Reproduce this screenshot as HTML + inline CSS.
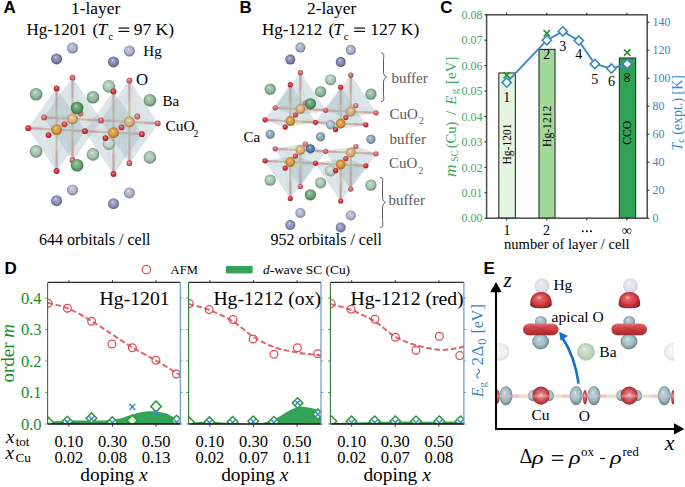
<!DOCTYPE html><html><head><meta charset="utf-8"><title>figure</title><style>html,body{margin:0;padding:0;background:#fff;overflow:hidden}svg{display:block}</style></head><body>
<svg width="685" height="487" viewBox="0 0 685 487">
<defs><radialGradient id="g0" cx="0.5" cy="0.5" r="0.56" fx="0.4" fy="0.33"><stop offset="0" stop-color="#f4d4d6"/><stop offset="0.22" stop-color="#e19093"/><stop offset="0.6" stop-color="#d97175"/><stop offset="1" stop-color="#824446"/></radialGradient><radialGradient id="g1" cx="0.5" cy="0.5" r="0.56" fx="0.4" fy="0.33"><stop offset="0" stop-color="#e6efe8"/><stop offset="0.22" stop-color="#bdd5c4"/><stop offset="0.6" stop-color="#aac9b4"/><stop offset="1" stop-color="#66796c"/></radialGradient><radialGradient id="g2" cx="0.5" cy="0.5" r="0.56" fx="0.4" fy="0.33"><stop offset="0" stop-color="#ebf2ee"/><stop offset="0.22" stop-color="#cbdcd3"/><stop offset="0.6" stop-color="#bcd2c6"/><stop offset="1" stop-color="#717e77"/></radialGradient><radialGradient id="g3" cx="0.5" cy="0.5" r="0.56" fx="0.4" fy="0.33"><stop offset="0" stop-color="#f5e7d5"/><stop offset="0.22" stop-color="#e5c192"/><stop offset="0.6" stop-color="#deaf73"/><stop offset="1" stop-color="#856945"/></radialGradient><radialGradient id="g4" cx="0.5" cy="0.5" r="0.56" fx="0.4" fy="0.33"><stop offset="0" stop-color="#f4d0d1"/><stop offset="0.22" stop-color="#e18487"/><stop offset="0.6" stop-color="#d96165"/><stop offset="1" stop-color="#823a3d"/></radialGradient><radialGradient id="g5" cx="0.5" cy="0.5" r="0.56" fx="0.4" fy="0.33"><stop offset="0" stop-color="#e6e7ef"/><stop offset="0.22" stop-color="#bdc0d6"/><stop offset="0.6" stop-color="#aaaeca"/><stop offset="1" stop-color="#666879"/></radialGradient><radialGradient id="g6" cx="0.5" cy="0.5" r="0.56" fx="0.4" fy="0.33"><stop offset="0" stop-color="#e7e8f0"/><stop offset="0.22" stop-color="#c1c4d8"/><stop offset="0.6" stop-color="#afb3cd"/><stop offset="1" stop-color="#696b7b"/></radialGradient><radialGradient id="g7" cx="0.5" cy="0.5" r="0.56" fx="0.4" fy="0.33"><stop offset="0" stop-color="#f3c6c7"/><stop offset="0.22" stop-color="#e06b6e"/><stop offset="0.6" stop-color="#d74145"/><stop offset="1" stop-color="#812729"/></radialGradient><radialGradient id="g8" cx="0.5" cy="0.5" r="0.56" fx="0.4" fy="0.33"><stop offset="0" stop-color="#ddeae0"/><stop offset="0.22" stop-color="#a8c9af"/><stop offset="0.6" stop-color="#8fba99"/><stop offset="1" stop-color="#56705c"/></radialGradient><radialGradient id="g9" cx="0.5" cy="0.5" r="0.56" fx="0.4" fy="0.33"><stop offset="0" stop-color="#e3ede6"/><stop offset="0.22" stop-color="#b6d1be"/><stop offset="0.6" stop-color="#a2c4ac"/><stop offset="1" stop-color="#617667"/></radialGradient><radialGradient id="g10" cx="0.5" cy="0.5" r="0.56" fx="0.4" fy="0.33"><stop offset="0" stop-color="#f5dec2"/><stop offset="0.22" stop-color="#e5aa61"/><stop offset="0.6" stop-color="#de9234"/><stop offset="1" stop-color="#85581f"/></radialGradient><radialGradient id="g11" cx="0.5" cy="0.5" r="0.56" fx="0.4" fy="0.33"><stop offset="0" stop-color="#f3c0c2"/><stop offset="0.22" stop-color="#df5c5f"/><stop offset="0.6" stop-color="#d62e32"/><stop offset="1" stop-color="#801c1e"/></radialGradient><radialGradient id="g12" cx="0.5" cy="0.5" r="0.56" fx="0.4" fy="0.33"><stop offset="0" stop-color="#d9dae8"/><stop offset="0.22" stop-color="#9c9ec3"/><stop offset="0.6" stop-color="#8082b2"/><stop offset="1" stop-color="#4d4e6b"/></radialGradient><radialGradient id="g13" cx="0.5" cy="0.5" r="0.56" fx="0.4" fy="0.33"><stop offset="0" stop-color="#dddeea"/><stop offset="0.22" stop-color="#a6a8c9"/><stop offset="0.6" stop-color="#8d90ba"/><stop offset="1" stop-color="#555670"/></radialGradient><radialGradient id="g14" cx="0.5" cy="0.5" r="0.56" fx="0.4" fy="0.33"><stop offset="0" stop-color="#f3bdbe"/><stop offset="0.22" stop-color="#df5457"/><stop offset="0.6" stop-color="#d62428"/><stop offset="1" stop-color="#801618"/></radialGradient><radialGradient id="g15" cx="0.5" cy="0.5" r="0.56" fx="0.4" fy="0.33"><stop offset="0" stop-color="#cce1cf"/><stop offset="0.22" stop-color="#7bb283"/><stop offset="0.6" stop-color="#569c60"/><stop offset="1" stop-color="#345e3a"/></radialGradient><radialGradient id="g16" cx="0.5" cy="0.5" r="0.56" fx="0.4" fy="0.33"><stop offset="0" stop-color="#d2e4d5"/><stop offset="0.22" stop-color="#8aba92"/><stop offset="0.6" stop-color="#69a673"/><stop offset="1" stop-color="#3f6445"/></radialGradient><radialGradient id="g17" cx="0.5" cy="0.5" r="0.56" fx="0.4" fy="0.33"><stop offset="0" stop-color="#e3ebf0"/><stop offset="0.22" stop-color="#b7cad8"/><stop offset="0.6" stop-color="#a3bbcd"/><stop offset="1" stop-color="#62707b"/></radialGradient><radialGradient id="g18" cx="0.5" cy="0.5" r="0.56" fx="0.4" fy="0.33"><stop offset="0" stop-color="#dbe4ec"/><stop offset="0.22" stop-color="#a1bace"/><stop offset="0.6" stop-color="#86a6c0"/><stop offset="1" stop-color="#506473"/></radialGradient><radialGradient id="g19" cx="0.5" cy="0.5" r="0.56" fx="0.4" fy="0.33"><stop offset="0" stop-color="#c9d8e4"/><stop offset="0.22" stop-color="#739ab9"/><stop offset="0.6" stop-color="#4b7da5"/><stop offset="1" stop-color="#2d4b63"/></radialGradient><radialGradient id="g20" cx="0.5" cy="0.5" r="0.56" fx="0.4" fy="0.33"><stop offset="0" stop-color="#fafbfa"/><stop offset="0.22" stop-color="#f2f6f2"/><stop offset="0.6" stop-color="#eef3ee"/><stop offset="1" stop-color="#d1d6d1"/></radialGradient><radialGradient id="g21" cx="0.5" cy="0.5" r="0.56" fx="0.4" fy="0.33"><stop offset="0" stop-color="#ecf3ec"/><stop offset="0.22" stop-color="#cedfce"/><stop offset="0.6" stop-color="#c0d6c0"/><stop offset="1" stop-color="#a9bca9"/></radialGradient><radialGradient id="g22" cx="0.5" cy="0.5" r="0.56" fx="0.4" fy="0.33"><stop offset="0" stop-color="#f6f6fa"/><stop offset="0.22" stop-color="#e8e8f2"/><stop offset="0.6" stop-color="#e2e2ee"/><stop offset="1" stop-color="#c7c7d1"/></radialGradient><radialGradient id="g23" cx="0.5" cy="0.5" r="0.56" fx="0.4" fy="0.33"><stop offset="0" stop-color="#f3c4c6"/><stop offset="0.22" stop-color="#df676c"/><stop offset="0.6" stop-color="#d63c42"/><stop offset="1" stop-color="#802428"/></radialGradient><radialGradient id="g24" cx="0.5" cy="0.5" r="0.56" fx="0.4" fy="0.33"><stop offset="0" stop-color="#e2ebee"/><stop offset="0.22" stop-color="#b5cbd3"/><stop offset="0.6" stop-color="#a0bcc6"/><stop offset="1" stop-color="#607177"/></radialGradient></defs>
<rect width="685" height="487" fill="#fff"/>
<text x="3.6" y="13.1" font-family="'Liberation Sans', sans-serif" font-size="17" fill="#000" text-anchor="start" font-weight="bold">A</text>
<text x="71.0" y="13.6" font-family="'Liberation Serif', serif" font-size="17.4" fill="#000" text-anchor="start" >1-layer</text>
<text x="26.4" y="34.7" font-family="'Liberation Serif', serif" font-size="17" fill="#000" text-anchor="start" >Hg-1201</text>
<text x="92.4" y="34.7" font-family="'Liberation Serif', serif" font-size="17.5" fill="#000" text-anchor="start" >(</text>
<text x="97.6" y="34.7" font-family="'Liberation Serif', serif" font-size="17.5" fill="#000" text-anchor="start" font-style="italic">T</text>
<text x="108.3" y="40.0" font-family="'Liberation Serif', serif" font-size="11" fill="#000" text-anchor="start" >c</text>
<rect x="118.5" y="27.5" width="10.9" height="1.15"/><rect x="118.5" y="30.8" width="10.9" height="1.15"/>
<text x="133.7" y="34.7" font-family="'Liberation Serif', serif" font-size="17.5" fill="#000" text-anchor="start" >97 K)</text>
<g stroke-width="2.2" stroke-opacity="0.9"><line x1="56.6" y1="129.7" x2="56.6" y2="109.0" stroke="#e2bb8e"/><line x1="56.6" y1="109.0" x2="56.6" y2="88.4" stroke="#e09494"/><line x1="56.6" y1="129.7" x2="56.6" y2="150.3" stroke="#e2bb8e"/><line x1="56.6" y1="150.3" x2="56.6" y2="171.0" stroke="#e09494"/><line x1="56.6" y1="129.7" x2="42.4" y2="128.9" stroke="#e2bb8e"/><line x1="42.4" y1="128.9" x2="28.2" y2="128.2" stroke="#e09494"/><line x1="56.6" y1="129.7" x2="70.8" y2="130.4" stroke="#e2bb8e"/><line x1="70.8" y1="130.4" x2="85.0" y2="131.2" stroke="#e09494"/><line x1="113.5" y1="132.7" x2="113.5" y2="112.0" stroke="#e2bb8e"/><line x1="113.5" y1="112.0" x2="113.5" y2="91.4" stroke="#e09494"/><line x1="113.5" y1="132.7" x2="113.5" y2="153.3" stroke="#e2bb8e"/><line x1="113.5" y1="153.3" x2="113.5" y2="174.0" stroke="#e09494"/><line x1="113.5" y1="132.7" x2="99.3" y2="131.9" stroke="#e2bb8e"/><line x1="99.3" y1="131.9" x2="85.0" y2="131.2" stroke="#e09494"/><line x1="113.5" y1="132.7" x2="127.7" y2="133.4" stroke="#e2bb8e"/><line x1="127.7" y1="133.4" x2="141.9" y2="134.2" stroke="#e09494"/><line x1="72.5" y1="118.9" x2="72.5" y2="98.2" stroke="#e2bb8e"/><line x1="72.5" y1="98.2" x2="72.5" y2="77.6" stroke="#e09494"/><line x1="72.5" y1="118.9" x2="72.5" y2="139.5" stroke="#e2bb8e"/><line x1="72.5" y1="139.5" x2="72.5" y2="160.2" stroke="#e09494"/><line x1="72.5" y1="118.9" x2="58.3" y2="118.1" stroke="#e2bb8e"/><line x1="58.3" y1="118.1" x2="44.1" y2="117.4" stroke="#e09494"/><line x1="72.5" y1="118.9" x2="86.7" y2="119.6" stroke="#e2bb8e"/><line x1="86.7" y1="119.6" x2="101.0" y2="120.4" stroke="#e09494"/><line x1="129.4" y1="121.9" x2="129.4" y2="101.2" stroke="#e2bb8e"/><line x1="129.4" y1="101.2" x2="129.4" y2="80.6" stroke="#e09494"/><line x1="129.4" y1="121.9" x2="129.4" y2="142.5" stroke="#e2bb8e"/><line x1="129.4" y1="142.5" x2="129.4" y2="163.2" stroke="#e09494"/><line x1="129.4" y1="121.9" x2="115.2" y2="121.1" stroke="#e2bb8e"/><line x1="115.2" y1="121.1" x2="101.0" y2="120.4" stroke="#e09494"/><line x1="129.4" y1="121.9" x2="143.6" y2="122.6" stroke="#e2bb8e"/><line x1="143.6" y1="122.6" x2="157.8" y2="123.4" stroke="#e09494"/></g>
<g fill="#9cb2ba" fill-opacity="0.19" stroke="#8aa0a8" stroke-opacity="0.12" stroke-width="0.6"><polygon points="56.6,88.4 28.2,128.2 48.6,135.1"/><polygon points="56.6,88.4 48.6,135.1 85.0,131.2"/><polygon points="56.6,88.4 85.0,131.2 64.5,124.3"/><polygon points="56.6,88.4 64.5,124.3 28.2,128.2"/><polygon points="56.6,171.0 28.2,128.2 48.6,135.1"/><polygon points="56.6,171.0 48.6,135.1 85.0,131.2"/><polygon points="56.6,171.0 85.0,131.2 64.5,124.3"/><polygon points="56.6,171.0 64.5,124.3 28.2,128.2"/><polygon points="113.5,91.4 85.0,131.2 105.5,138.1"/><polygon points="113.5,91.4 105.5,138.1 141.9,134.2"/><polygon points="113.5,91.4 141.9,134.2 121.5,127.3"/><polygon points="113.5,91.4 121.5,127.3 85.0,131.2"/><polygon points="113.5,174.0 85.0,131.2 105.5,138.1"/><polygon points="113.5,174.0 105.5,138.1 141.9,134.2"/><polygon points="113.5,174.0 141.9,134.2 121.5,127.3"/><polygon points="113.5,174.0 121.5,127.3 85.0,131.2"/><polygon points="72.5,77.6 44.1,117.4 64.5,124.3"/><polygon points="72.5,77.6 64.5,124.3 101.0,120.4"/><polygon points="72.5,77.6 101.0,120.4 80.5,113.5"/><polygon points="72.5,77.6 80.5,113.5 44.1,117.4"/><polygon points="72.5,160.2 44.1,117.4 64.5,124.3"/><polygon points="72.5,160.2 64.5,124.3 101.0,120.4"/><polygon points="72.5,160.2 101.0,120.4 80.5,113.5"/><polygon points="72.5,160.2 80.5,113.5 44.1,117.4"/><polygon points="129.4,80.6 101.0,120.4 121.5,127.3"/><polygon points="129.4,80.6 121.5,127.3 157.8,123.4"/><polygon points="129.4,80.6 157.8,123.4 137.3,116.5"/><polygon points="129.4,80.6 137.3,116.5 101.0,120.4"/><polygon points="129.4,163.2 101.0,120.4 121.5,127.3"/><polygon points="129.4,163.2 121.5,127.3 157.8,123.4"/><polygon points="129.4,163.2 157.8,123.4 137.3,116.5"/><polygon points="129.4,163.2 137.3,116.5 101.0,120.4"/></g>
<circle cx="80.5" cy="113.5" r="2.9" fill="url(#g0)"/>
<circle cx="137.3" cy="116.5" r="2.9" fill="url(#g0)"/>
<circle cx="108.9" cy="86.4" r="6.3" fill="url(#g1)"/>
<circle cx="108.9" cy="143.6" r="6.3" fill="url(#g2)"/>
<circle cx="72.5" cy="118.9" r="5.4" fill="url(#g3)"/>
<circle cx="129.4" cy="121.9" r="5.4" fill="url(#g3)"/>
<circle cx="44.1" cy="117.4" r="2.9" fill="url(#g4)"/>
<circle cx="101.0" cy="120.4" r="2.9" fill="url(#g4)"/>
<circle cx="157.8" cy="123.4" r="2.9" fill="url(#g4)"/>
<circle cx="72.5" cy="77.6" r="2.9" fill="url(#g4)"/>
<circle cx="72.5" cy="160.2" r="2.9" fill="url(#g4)"/>
<circle cx="129.4" cy="80.6" r="2.9" fill="url(#g4)"/>
<circle cx="129.4" cy="163.2" r="2.9" fill="url(#g4)"/>
<circle cx="72.5" cy="48.1" r="5.5" fill="url(#g5)"/>
<circle cx="129.4" cy="51.1" r="5.5" fill="url(#g5)"/>
<circle cx="72.5" cy="189.9" r="5.5" fill="url(#g6)"/>
<circle cx="129.4" cy="192.9" r="5.5" fill="url(#g6)"/>
<circle cx="64.5" cy="124.3" r="2.9" fill="url(#g7)"/>
<circle cx="121.5" cy="127.3" r="2.9" fill="url(#g7)"/>
<circle cx="36.1" cy="94.2" r="6.3" fill="url(#g8)"/>
<circle cx="93.0" cy="97.2" r="6.3" fill="url(#g8)"/>
<circle cx="149.9" cy="100.2" r="6.3" fill="url(#g8)"/>
<circle cx="36.1" cy="151.4" r="6.3" fill="url(#g9)"/>
<circle cx="93.0" cy="154.4" r="6.3" fill="url(#g9)"/>
<circle cx="149.9" cy="157.4" r="6.3" fill="url(#g9)"/>
<circle cx="56.6" cy="129.7" r="5.4" fill="url(#g10)"/>
<circle cx="113.5" cy="132.7" r="5.4" fill="url(#g10)"/>
<circle cx="28.2" cy="128.2" r="2.9" fill="url(#g11)"/>
<circle cx="85.0" cy="131.2" r="2.9" fill="url(#g11)"/>
<circle cx="141.9" cy="134.2" r="2.9" fill="url(#g11)"/>
<circle cx="56.6" cy="88.4" r="2.9" fill="url(#g11)"/>
<circle cx="56.6" cy="171.0" r="2.9" fill="url(#g11)"/>
<circle cx="113.5" cy="91.4" r="2.9" fill="url(#g11)"/>
<circle cx="113.5" cy="174.0" r="2.9" fill="url(#g11)"/>
<circle cx="56.6" cy="58.9" r="5.5" fill="url(#g12)"/>
<circle cx="113.5" cy="61.9" r="5.5" fill="url(#g12)"/>
<circle cx="56.6" cy="200.7" r="5.5" fill="url(#g13)"/>
<circle cx="113.5" cy="203.7" r="5.5" fill="url(#g13)"/>
<circle cx="48.6" cy="135.1" r="2.9" fill="url(#g14)"/>
<circle cx="105.5" cy="138.1" r="2.9" fill="url(#g14)"/>
<circle cx="77.1" cy="108.0" r="6.3" fill="url(#g15)"/>
<circle cx="77.1" cy="165.2" r="6.3" fill="url(#g16)"/>
<text x="143.3" y="56.4" font-family="'Liberation Serif', serif" font-size="15" fill="#000" text-anchor="start" >Hg</text>
<text x="136.0" y="85.2" font-family="'Liberation Serif', serif" font-size="16.8" fill="#000" text-anchor="start" >O</text>
<text x="162.4" y="105.7" font-family="'Liberation Serif', serif" font-size="15" fill="#000" text-anchor="start" >Ba</text>
<text x="165.5" y="131.4" font-family="'Liberation Serif', serif" font-size="15.5" fill="#000" text-anchor="start" >CuO</text>
<text x="193.6" y="136.6" font-family="'Liberation Serif', serif" font-size="10" fill="#000" text-anchor="start" >2</text>
<text x="39.0" y="245.4" font-family="'Liberation Serif', serif" font-size="16" fill="#000" text-anchor="start" >644 orbitals / cell</text>
<text x="239.6" y="13.1" font-family="'Liberation Sans', sans-serif" font-size="17" fill="#000" text-anchor="start" font-weight="bold">B</text>
<text x="307.0" y="13.6" font-family="'Liberation Serif', serif" font-size="17.4" fill="#000" text-anchor="start" >2-layer</text>
<text x="261.9" y="34.7" font-family="'Liberation Serif', serif" font-size="17" fill="#000" text-anchor="start" >Hg-1212</text>
<text x="328.4" y="34.7" font-family="'Liberation Serif', serif" font-size="17.5" fill="#000" text-anchor="start" >(</text>
<text x="333.2" y="34.7" font-family="'Liberation Serif', serif" font-size="17.5" fill="#000" text-anchor="start" font-style="italic">T</text>
<text x="343.8" y="40.0" font-family="'Liberation Serif', serif" font-size="11" fill="#000" text-anchor="start" >c</text>
<rect x="354.2" y="27.5" width="10.9" height="1.15"/><rect x="354.2" y="30.8" width="10.9" height="1.15"/>
<text x="370.2" y="34.7" font-family="'Liberation Serif', serif" font-size="17.5" fill="#000" text-anchor="start" >127 K)</text>
<g stroke-width="2.2" stroke-opacity="0.9"><line x1="290.3" y1="121.1" x2="290.3" y2="102.9" stroke="#e2bb8e"/><line x1="290.3" y1="102.9" x2="290.3" y2="84.7" stroke="#e09494"/><line x1="290.3" y1="121.1" x2="277.7" y2="120.5" stroke="#e2bb8e"/><line x1="277.7" y1="120.5" x2="265.1" y2="119.8" stroke="#e09494"/><line x1="290.3" y1="121.1" x2="302.9" y2="121.7" stroke="#e2bb8e"/><line x1="302.9" y1="121.7" x2="315.5" y2="122.3" stroke="#e09494"/><line x1="340.7" y1="123.6" x2="340.7" y2="105.4" stroke="#e2bb8e"/><line x1="340.7" y1="105.4" x2="340.7" y2="87.2" stroke="#e09494"/><line x1="340.7" y1="123.6" x2="328.1" y2="123.0" stroke="#e2bb8e"/><line x1="328.1" y1="123.0" x2="315.5" y2="122.3" stroke="#e09494"/><line x1="340.7" y1="123.6" x2="353.3" y2="124.2" stroke="#e2bb8e"/><line x1="353.3" y1="124.2" x2="365.9" y2="124.8" stroke="#e09494"/><line x1="300.4" y1="109.1" x2="300.4" y2="90.9" stroke="#e2bb8e"/><line x1="300.4" y1="90.9" x2="300.4" y2="72.7" stroke="#e09494"/><line x1="300.4" y1="109.1" x2="287.8" y2="108.5" stroke="#e2bb8e"/><line x1="287.8" y1="108.5" x2="275.2" y2="107.8" stroke="#e09494"/><line x1="300.4" y1="109.1" x2="313.0" y2="109.7" stroke="#e2bb8e"/><line x1="313.0" y1="109.7" x2="325.6" y2="110.3" stroke="#e09494"/><line x1="350.8" y1="111.6" x2="350.8" y2="93.4" stroke="#e2bb8e"/><line x1="350.8" y1="93.4" x2="350.8" y2="75.2" stroke="#e09494"/><line x1="350.8" y1="111.6" x2="338.2" y2="111.0" stroke="#e2bb8e"/><line x1="338.2" y1="111.0" x2="325.6" y2="110.3" stroke="#e09494"/><line x1="350.8" y1="111.6" x2="363.4" y2="112.2" stroke="#e2bb8e"/><line x1="363.4" y1="112.2" x2="376.0" y2="112.8" stroke="#e09494"/><line x1="290.3" y1="162.1" x2="290.3" y2="180.3" stroke="#e2bb8e"/><line x1="290.3" y1="180.3" x2="290.3" y2="198.5" stroke="#e09494"/><line x1="290.3" y1="162.1" x2="277.7" y2="161.5" stroke="#e2bb8e"/><line x1="277.7" y1="161.5" x2="265.1" y2="160.8" stroke="#e09494"/><line x1="290.3" y1="162.1" x2="302.9" y2="162.7" stroke="#e2bb8e"/><line x1="302.9" y1="162.7" x2="315.5" y2="163.3" stroke="#e09494"/><line x1="340.7" y1="164.6" x2="340.7" y2="182.8" stroke="#e2bb8e"/><line x1="340.7" y1="182.8" x2="340.7" y2="201.0" stroke="#e09494"/><line x1="340.7" y1="164.6" x2="328.1" y2="164.0" stroke="#e2bb8e"/><line x1="328.1" y1="164.0" x2="315.5" y2="163.3" stroke="#e09494"/><line x1="340.7" y1="164.6" x2="353.3" y2="165.2" stroke="#e2bb8e"/><line x1="353.3" y1="165.2" x2="365.9" y2="165.8" stroke="#e09494"/><line x1="300.4" y1="150.1" x2="300.4" y2="168.3" stroke="#e2bb8e"/><line x1="300.4" y1="168.3" x2="300.4" y2="186.5" stroke="#e09494"/><line x1="300.4" y1="150.1" x2="287.8" y2="149.5" stroke="#e2bb8e"/><line x1="287.8" y1="149.5" x2="275.2" y2="148.8" stroke="#e09494"/><line x1="300.4" y1="150.1" x2="313.0" y2="150.7" stroke="#e2bb8e"/><line x1="313.0" y1="150.7" x2="325.6" y2="151.3" stroke="#e09494"/><line x1="350.8" y1="152.6" x2="350.8" y2="170.8" stroke="#e2bb8e"/><line x1="350.8" y1="170.8" x2="350.8" y2="189.0" stroke="#e09494"/><line x1="350.8" y1="152.6" x2="338.2" y2="152.0" stroke="#e2bb8e"/><line x1="338.2" y1="152.0" x2="325.6" y2="151.3" stroke="#e09494"/><line x1="350.8" y1="152.6" x2="363.4" y2="153.2" stroke="#e2bb8e"/><line x1="363.4" y1="153.2" x2="376.0" y2="153.8" stroke="#e09494"/></g>
<g fill="#9cb2ba" fill-opacity="0.19" stroke="#8aa0a8" stroke-opacity="0.12" stroke-width="0.6"><polygon points="290.3,84.7 265.1,119.8 285.2,127.1"/><polygon points="290.3,84.7 285.2,127.1 315.5,122.3"/><polygon points="290.3,84.7 315.5,122.3 295.4,115.1"/><polygon points="290.3,84.7 295.4,115.1 265.1,119.8"/><polygon points="265.1,119.8 285.2,127.1 315.5,122.3 295.4,115.1"/><polygon points="340.7,87.2 315.5,122.3 335.6,129.6"/><polygon points="340.7,87.2 335.6,129.6 365.9,124.8"/><polygon points="340.7,87.2 365.9,124.8 345.8,117.6"/><polygon points="340.7,87.2 345.8,117.6 315.5,122.3"/><polygon points="315.5,122.3 335.6,129.6 365.9,124.8 345.8,117.6"/><polygon points="300.4,72.7 275.2,107.8 295.4,115.1"/><polygon points="300.4,72.7 295.4,115.1 325.6,110.3"/><polygon points="300.4,72.7 325.6,110.3 305.4,103.1"/><polygon points="300.4,72.7 305.4,103.1 275.2,107.8"/><polygon points="275.2,107.8 295.4,115.1 325.6,110.3 305.4,103.1"/><polygon points="350.8,75.2 325.6,110.3 345.8,117.6"/><polygon points="350.8,75.2 345.8,117.6 376.0,112.8"/><polygon points="350.8,75.2 376.0,112.8 355.8,105.6"/><polygon points="350.8,75.2 355.8,105.6 325.6,110.3"/><polygon points="325.6,110.3 345.8,117.6 376.0,112.8 355.8,105.6"/><polygon points="290.3,198.5 265.1,160.8 285.2,168.1"/><polygon points="290.3,198.5 285.2,168.1 315.5,163.3"/><polygon points="290.3,198.5 315.5,163.3 295.4,156.1"/><polygon points="290.3,198.5 295.4,156.1 265.1,160.8"/><polygon points="265.1,160.8 285.2,168.1 315.5,163.3 295.4,156.1"/><polygon points="340.7,201.0 315.5,163.3 335.6,170.6"/><polygon points="340.7,201.0 335.6,170.6 365.9,165.8"/><polygon points="340.7,201.0 365.9,165.8 345.8,158.6"/><polygon points="340.7,201.0 345.8,158.6 315.5,163.3"/><polygon points="315.5,163.3 335.6,170.6 365.9,165.8 345.8,158.6"/><polygon points="300.4,186.5 275.2,148.8 295.4,156.1"/><polygon points="300.4,186.5 295.4,156.1 325.6,151.3"/><polygon points="300.4,186.5 325.6,151.3 305.4,144.1"/><polygon points="300.4,186.5 305.4,144.1 275.2,148.8"/><polygon points="275.2,148.8 295.4,156.1 325.6,151.3 305.4,144.1"/><polygon points="350.8,189.0 325.6,151.3 345.8,158.6"/><polygon points="350.8,189.0 345.8,158.6 376.0,153.8"/><polygon points="350.8,189.0 376.0,153.8 355.8,146.6"/><polygon points="350.8,189.0 355.8,146.6 325.6,151.3"/><polygon points="325.6,151.3 345.8,158.6 376.0,153.8 355.8,146.6"/></g>
<circle cx="305.4" cy="103.1" r="2.6" fill="url(#g0)"/>
<circle cx="355.8" cy="105.6" r="2.6" fill="url(#g0)"/>
<circle cx="305.4" cy="144.1" r="2.6" fill="url(#g0)"/>
<circle cx="355.8" cy="146.6" r="2.6" fill="url(#g0)"/>
<circle cx="330.6" cy="79.8" r="5.6" fill="url(#g1)"/>
<circle cx="330.6" cy="170.8" r="5.6" fill="url(#g2)"/>
<circle cx="330.6" cy="124.8" r="4.6" fill="url(#g17)"/>
<circle cx="300.4" cy="109.1" r="4.8" fill="url(#g3)"/>
<circle cx="350.8" cy="111.6" r="4.8" fill="url(#g3)"/>
<circle cx="275.2" cy="107.8" r="2.6" fill="url(#g4)"/>
<circle cx="325.6" cy="110.3" r="2.6" fill="url(#g4)"/>
<circle cx="376.0" cy="112.8" r="2.6" fill="url(#g4)"/>
<circle cx="300.4" cy="72.7" r="2.6" fill="url(#g4)"/>
<circle cx="350.8" cy="75.2" r="2.6" fill="url(#g4)"/>
<circle cx="300.4" cy="150.1" r="4.8" fill="url(#g3)"/>
<circle cx="350.8" cy="152.6" r="4.8" fill="url(#g3)"/>
<circle cx="275.2" cy="148.8" r="2.6" fill="url(#g4)"/>
<circle cx="325.6" cy="151.3" r="2.6" fill="url(#g4)"/>
<circle cx="376.0" cy="153.8" r="2.6" fill="url(#g4)"/>
<circle cx="300.4" cy="186.5" r="2.6" fill="url(#g4)"/>
<circle cx="350.8" cy="189.0" r="2.6" fill="url(#g4)"/>
<circle cx="300.4" cy="47.6" r="5.0" fill="url(#g5)"/>
<circle cx="350.8" cy="50.1" r="5.0" fill="url(#g5)"/>
<circle cx="300.4" cy="213.0" r="5.0" fill="url(#g6)"/>
<circle cx="350.8" cy="215.5" r="5.0" fill="url(#g6)"/>
<circle cx="295.4" cy="115.1" r="2.6" fill="url(#g7)"/>
<circle cx="345.8" cy="117.6" r="2.6" fill="url(#g7)"/>
<circle cx="295.4" cy="156.1" r="2.6" fill="url(#g7)"/>
<circle cx="345.8" cy="158.6" r="2.6" fill="url(#g7)"/>
<circle cx="270.2" cy="89.2" r="5.6" fill="url(#g8)"/>
<circle cx="320.6" cy="91.8" r="5.6" fill="url(#g8)"/>
<circle cx="370.9" cy="94.2" r="5.6" fill="url(#g8)"/>
<circle cx="270.2" cy="180.2" r="5.6" fill="url(#g9)"/>
<circle cx="320.6" cy="182.8" r="5.6" fill="url(#g9)"/>
<circle cx="370.9" cy="185.2" r="5.6" fill="url(#g9)"/>
<circle cx="270.2" cy="134.3" r="4.6" fill="url(#g18)"/>
<circle cx="320.6" cy="136.8" r="4.6" fill="url(#g18)"/>
<circle cx="370.9" cy="139.3" r="4.6" fill="url(#g18)"/>
<circle cx="290.3" cy="121.1" r="4.8" fill="url(#g10)"/>
<circle cx="340.7" cy="123.6" r="4.8" fill="url(#g10)"/>
<circle cx="265.1" cy="119.8" r="2.6" fill="url(#g11)"/>
<circle cx="315.5" cy="122.3" r="2.6" fill="url(#g11)"/>
<circle cx="365.9" cy="124.8" r="2.6" fill="url(#g11)"/>
<circle cx="290.3" cy="84.7" r="2.6" fill="url(#g11)"/>
<circle cx="340.7" cy="87.2" r="2.6" fill="url(#g11)"/>
<circle cx="290.3" cy="162.1" r="4.8" fill="url(#g10)"/>
<circle cx="340.7" cy="164.6" r="4.8" fill="url(#g10)"/>
<circle cx="265.1" cy="160.8" r="2.6" fill="url(#g11)"/>
<circle cx="315.5" cy="163.3" r="2.6" fill="url(#g11)"/>
<circle cx="365.9" cy="165.8" r="2.6" fill="url(#g11)"/>
<circle cx="290.3" cy="198.5" r="2.6" fill="url(#g11)"/>
<circle cx="340.7" cy="201.0" r="2.6" fill="url(#g11)"/>
<circle cx="290.3" cy="59.6" r="5.0" fill="url(#g12)"/>
<circle cx="340.7" cy="62.1" r="5.0" fill="url(#g12)"/>
<circle cx="290.3" cy="225.0" r="5.0" fill="url(#g13)"/>
<circle cx="340.7" cy="227.5" r="5.0" fill="url(#g13)"/>
<circle cx="285.2" cy="127.1" r="2.6" fill="url(#g14)"/>
<circle cx="335.6" cy="129.6" r="2.6" fill="url(#g14)"/>
<circle cx="285.2" cy="168.1" r="2.6" fill="url(#g14)"/>
<circle cx="335.6" cy="170.6" r="2.6" fill="url(#g14)"/>
<circle cx="310.4" cy="103.8" r="5.6" fill="url(#g15)"/>
<circle cx="310.4" cy="194.8" r="5.6" fill="url(#g16)"/>
<circle cx="310.4" cy="148.8" r="4.6" fill="url(#g19)"/>
<text x="391.4" y="82.5" font-family="'Liberation Serif', serif" font-size="15" fill="#5a5a5a" text-anchor="start" >buffer</text>
<text x="389.6" y="118.5" font-family="'Liberation Serif', serif" font-size="15" fill="#5a5a5a" text-anchor="start" >CuO</text>
<text x="419.0" y="124.3" font-family="'Liberation Serif', serif" font-size="9.6" fill="#5a5a5a" text-anchor="start" >2</text>
<text x="389.6" y="143.5" font-family="'Liberation Serif', serif" font-size="15" fill="#5a5a5a" text-anchor="start" >buffer</text>
<text x="389.0" y="167.7" font-family="'Liberation Serif', serif" font-size="15" fill="#5a5a5a" text-anchor="start" >CuO</text>
<text x="418.4" y="173.5" font-family="'Liberation Serif', serif" font-size="9.6" fill="#5a5a5a" text-anchor="start" >2</text>
<text x="388.5" y="205.2" font-family="'Liberation Serif', serif" font-size="15" fill="#5a5a5a" text-anchor="start" >buffer</text>
<text x="243.5" y="142.0" font-family="'Liberation Serif', serif" font-size="15" fill="#000" text-anchor="start" >Ca</text>
<text x="270.4" y="244.9" font-family="'Liberation Serif', serif" font-size="16" fill="#000" text-anchor="start" >952 orbitals / cell</text>
<path d="M381.0,53.0 C385.0,53.0 383.5,56.0 383.5,61.0 L383.5,72.2 C383.5,75.8 386.0,77.2 386.5,77.2 C386.0,77.2 383.5,78.8 383.5,82.2 L383.5,93.5 C383.5,98.5 385.0,101.5 381.0,101.5" fill="none" stroke="#5a5a5a" stroke-width="1"/>
<path d="M380.0,177.5 C384.0,177.5 382.5,180.5 382.5,185.5 L382.5,197.4 C382.5,200.9 385.0,202.4 385.5,202.4 C385.0,202.4 382.5,203.9 382.5,207.4 L382.5,219.4 C382.5,224.4 384.0,227.4 380.0,227.4" fill="none" stroke="#5a5a5a" stroke-width="1"/>
<text x="440.3" y="13.0" font-family="'Liberation Sans', sans-serif" font-size="17" fill="#000" text-anchor="start" font-weight="bold">C</text>
<rect x="498.8" y="73.0" width="16.6" height="145.2" fill="#e5f5e0" stroke="#3c3c3c" stroke-width="1.2"/>
<rect x="539.0" y="49.4" width="16.0" height="168.8" fill="#a1d99b" stroke="#3c3c3c" stroke-width="1.2"/>
<rect x="619.4" y="58.0" width="16.2" height="160.2" fill="#31a354" stroke="#3c3c3c" stroke-width="1.2"/>
<rect x="486.6" y="14.8" width="160.6" height="203.4" fill="none" stroke="#4a4a4a" stroke-width="1.5"/>
<line x1="484.40000000000003" y1="218.2" x2="486.6" y2="218.2" stroke="#222" stroke-width="1"/>
<text x="482.4" y="222.4" font-family="'Liberation Serif', serif" font-size="12" fill="#45a860" text-anchor="end" >0.00</text>
<line x1="484.40000000000003" y1="192.8" x2="486.6" y2="192.8" stroke="#222" stroke-width="1"/>
<text x="482.4" y="197.0" font-family="'Liberation Serif', serif" font-size="12" fill="#45a860" text-anchor="end" >0.01</text>
<line x1="484.40000000000003" y1="167.3" x2="486.6" y2="167.3" stroke="#222" stroke-width="1"/>
<text x="482.4" y="171.5" font-family="'Liberation Serif', serif" font-size="12" fill="#45a860" text-anchor="end" >0.02</text>
<line x1="484.40000000000003" y1="141.9" x2="486.6" y2="141.9" stroke="#222" stroke-width="1"/>
<text x="482.4" y="146.1" font-family="'Liberation Serif', serif" font-size="12" fill="#45a860" text-anchor="end" >0.03</text>
<line x1="484.40000000000003" y1="116.5" x2="486.6" y2="116.5" stroke="#222" stroke-width="1"/>
<text x="482.4" y="120.7" font-family="'Liberation Serif', serif" font-size="12" fill="#45a860" text-anchor="end" >0.04</text>
<line x1="484.40000000000003" y1="91.1" x2="486.6" y2="91.1" stroke="#222" stroke-width="1"/>
<text x="482.4" y="95.3" font-family="'Liberation Serif', serif" font-size="12" fill="#45a860" text-anchor="end" >0.05</text>
<line x1="484.40000000000003" y1="65.7" x2="486.6" y2="65.7" stroke="#222" stroke-width="1"/>
<text x="482.4" y="69.9" font-family="'Liberation Serif', serif" font-size="12" fill="#45a860" text-anchor="end" >0.06</text>
<line x1="484.40000000000003" y1="40.2" x2="486.6" y2="40.2" stroke="#222" stroke-width="1"/>
<text x="482.4" y="44.4" font-family="'Liberation Serif', serif" font-size="12" fill="#45a860" text-anchor="end" >0.07</text>
<line x1="484.40000000000003" y1="14.8" x2="486.6" y2="14.8" stroke="#222" stroke-width="1"/>
<text x="482.4" y="19.0" font-family="'Liberation Serif', serif" font-size="12" fill="#45a860" text-anchor="end" >0.08</text>
<line x1="647.2" y1="218.2" x2="649.4000000000001" y2="218.2" stroke="#222" stroke-width="1"/>
<text x="652.5" y="222.4" font-family="'Liberation Serif', serif" font-size="12" fill="#3a87c6" text-anchor="start" >0</text>
<line x1="647.2" y1="190.2" x2="649.4000000000001" y2="190.2" stroke="#222" stroke-width="1"/>
<text x="652.5" y="194.4" font-family="'Liberation Serif', serif" font-size="12" fill="#3a87c6" text-anchor="start" >20</text>
<line x1="647.2" y1="162.2" x2="649.4000000000001" y2="162.2" stroke="#222" stroke-width="1"/>
<text x="652.5" y="166.4" font-family="'Liberation Serif', serif" font-size="12" fill="#3a87c6" text-anchor="start" >40</text>
<line x1="647.2" y1="134.2" x2="649.4000000000001" y2="134.2" stroke="#222" stroke-width="1"/>
<text x="652.5" y="138.4" font-family="'Liberation Serif', serif" font-size="12" fill="#3a87c6" text-anchor="start" >60</text>
<line x1="647.2" y1="106.2" x2="649.4000000000001" y2="106.2" stroke="#222" stroke-width="1"/>
<text x="652.5" y="110.4" font-family="'Liberation Serif', serif" font-size="12" fill="#3a87c6" text-anchor="start" >80</text>
<line x1="647.2" y1="78.2" x2="649.4000000000001" y2="78.2" stroke="#222" stroke-width="1"/>
<text x="652.5" y="82.4" font-family="'Liberation Serif', serif" font-size="12" fill="#3a87c6" text-anchor="start" >100</text>
<line x1="647.2" y1="50.2" x2="649.4000000000001" y2="50.2" stroke="#222" stroke-width="1"/>
<text x="652.5" y="54.4" font-family="'Liberation Serif', serif" font-size="12" fill="#3a87c6" text-anchor="start" >120</text>
<line x1="647.2" y1="22.2" x2="649.4000000000001" y2="22.2" stroke="#222" stroke-width="1"/>
<text x="652.5" y="26.4" font-family="'Liberation Serif', serif" font-size="12" fill="#3a87c6" text-anchor="start" >140</text>
<line x1="506.7" y1="12.600000000000001" x2="506.7" y2="14.8" stroke="#222" stroke-width="1"/>
<line x1="506.7" y1="218.2" x2="506.7" y2="220.39999999999998" stroke="#222" stroke-width="1"/>
<line x1="546.8" y1="12.600000000000001" x2="546.8" y2="14.8" stroke="#222" stroke-width="1"/>
<line x1="546.8" y1="218.2" x2="546.8" y2="220.39999999999998" stroke="#222" stroke-width="1"/>
<line x1="586.8" y1="12.600000000000001" x2="586.8" y2="14.8" stroke="#222" stroke-width="1"/>
<line x1="586.8" y1="218.2" x2="586.8" y2="220.39999999999998" stroke="#222" stroke-width="1"/>
<line x1="626.9" y1="12.600000000000001" x2="626.9" y2="14.8" stroke="#222" stroke-width="1"/>
<line x1="626.9" y1="218.2" x2="626.9" y2="220.39999999999998" stroke="#222" stroke-width="1"/>
<text x="507.0" y="235.4" font-family="'Liberation Serif', serif" font-size="14" fill="#000" text-anchor="middle" >1</text>
<text x="546.6" y="235.4" font-family="'Liberation Serif', serif" font-size="14" fill="#000" text-anchor="middle" >2</text>
<circle cx="582.8" cy="231.3" r="0.95"/><circle cx="586.9" cy="231.3" r="0.95"/><circle cx="591.0" cy="231.3" r="0.95"/>
<text x="626.7" y="235.4" font-family="'Liberation Serif', serif" font-size="14" fill="#000" text-anchor="middle" >∞</text>
<text x="504.0" y="249.4" font-family="'Liberation Serif', serif" font-size="14.6" fill="#000" text-anchor="start" >number of layer / cell</text>
<text transform="translate(511.0,144.0) rotate(-90)" font-family="'Liberation Serif', serif" font-size="11.6" text-anchor="middle">Hg-1201</text>
<text transform="translate(551.0,126.3) rotate(-90)" font-family="'Liberation Serif', serif" font-size="11.6" text-anchor="middle">Hg-1212</text>
<text transform="translate(631.0,132.8) rotate(-90)" font-family="'Liberation Serif', serif" font-size="11.6" text-anchor="middle">CCO</text>
<path d="M503.5,72.0L509.9,78.4M503.5,78.4L509.9,72.0" stroke="#1f8f2f" stroke-width="1.6"/>
<path d="M543.5999999999999,30.099999999999998L550.0,36.5M543.5999999999999,36.5L550.0,30.099999999999998" stroke="#1f8f2f" stroke-width="1.6"/>
<path d="M624.0,49.4L630.4000000000001,55.800000000000004M624.0,55.800000000000004L630.4000000000001,49.4" stroke="#1f8f2f" stroke-width="1.6"/>
<polyline points="506.7,82.6 546.8,40.2 562.8,31.4 578.8,40.6 594.8,64.0 611.4,68.6 627.2,64.0" fill="none" stroke="#3a87c6" stroke-width="1.9"/>
<path d="M506.7,78.0L511.3,82.6L506.7,87.19999999999999L502.09999999999997,82.6Z" fill="#fff" stroke="#3a87c6" stroke-width="1.6"/>
<path d="M546.8,35.6L551.4,40.2L546.8,44.800000000000004L542.1999999999999,40.2Z" fill="#fff" stroke="#3a87c6" stroke-width="1.6"/>
<path d="M562.8,26.799999999999997L567.4,31.4L562.8,36.0L558.1999999999999,31.4Z" fill="#fff" stroke="#3a87c6" stroke-width="1.6"/>
<path d="M578.8,36.0L583.4,40.6L578.8,45.2L574.1999999999999,40.6Z" fill="#fff" stroke="#3a87c6" stroke-width="1.6"/>
<path d="M594.8,59.4L599.4,64.0L594.8,68.6L590.1999999999999,64.0Z" fill="#fff" stroke="#3a87c6" stroke-width="1.6"/>
<path d="M611.4,63.99999999999999L616.0,68.6L611.4,73.19999999999999L606.8,68.6Z" fill="#fff" stroke="#3a87c6" stroke-width="1.6"/>
<path d="M627.2,59.4L631.8000000000001,64.0L627.2,68.6L622.6,64.0Z" fill="#fff" stroke="#3a87c6" stroke-width="1.6"/>
<text x="506.7" y="101.8" font-family="'Liberation Serif', serif" font-size="14" fill="#000" text-anchor="middle" >1</text>
<text x="546.8" y="59.4" font-family="'Liberation Serif', serif" font-size="14" fill="#000" text-anchor="middle" >2</text>
<text x="562.8" y="50.6" font-family="'Liberation Serif', serif" font-size="14" fill="#000" text-anchor="middle" >3</text>
<text x="578.8" y="59.4" font-family="'Liberation Serif', serif" font-size="14" fill="#000" text-anchor="middle" >4</text>
<text x="594.8" y="84.2" font-family="'Liberation Serif', serif" font-size="14" fill="#000" text-anchor="middle" >5</text>
<text x="611.4" y="86.1" font-family="'Liberation Serif', serif" font-size="14" fill="#000" text-anchor="middle" >6</text>
<text transform="translate(622.5,77.6) rotate(90)" font-family="'Liberation Serif', serif" font-size="14" text-anchor="middle">∞</text>
<g transform="translate(455.6,176.3) rotate(-90)" font-family="'Liberation Serif', serif" fill="#45a860"><text x="-0.6" y="0" font-size="17.5" font-style="italic">m</text><text x="14.6" y="2.6" font-size="9.5">SC</text><text x="28.0" y="0" font-size="14.6">(Cu)</text><text x="61.2" y="0" font-size="15">/</text><text x="71.6" y="0" font-size="15" font-style="italic">E</text><text x="82.0" y="2.6" font-size="11">g</text><text x="92.4" y="0" font-size="15">[eV]</text></g>
<text transform="translate(681.8,112.8) rotate(-90)" font-family="'Liberation Serif', serif" font-size="14" fill="#3a87c6" text-anchor="middle"><tspan font-style="italic">T</tspan><tspan font-size="10" dy="2">c</tspan><tspan dy="-2"> (expt.) [K]</tspan></text>
<text x="4.4" y="274.4" font-family="'Liberation Sans', sans-serif" font-size="17" fill="#000" text-anchor="start" font-weight="bold">D</text>
<circle cx="146.4" cy="269.6" r="4.2" fill="none" stroke="#dc4c58" stroke-width="1.2"/>
<text x="170.6" y="274.0" font-family="'Liberation Serif', serif" font-size="12.6" fill="#000" text-anchor="start" >AFM</text>
<rect x="226.0" y="266.0" width="26.6" height="7.4" fill="#33a457"/>
<text x="263.0" y="274.0" font-family="'Liberation Serif', serif" font-size="13.4"><tspan font-style="italic">d</tspan>-wave SC (Cu)</text>
<clipPath id="clipD0"><rect x="47.6" y="282.4" width="132.7" height="141.6"/></clipPath>
<path d="M47.6,421.8 C49.7,421.7 55.4,421.2 60.0,421.0 C64.6,420.8 69.2,420.7 75.0,420.6 C80.8,420.5 89.2,420.7 95.0,420.6 C100.8,420.6 105.8,420.6 110.0,420.3 C114.2,420.0 116.7,419.5 120.0,418.6 C123.3,417.8 126.7,416.2 130.0,415.2 C133.3,414.2 136.5,413.0 140.0,412.4 C143.5,411.8 147.3,411.3 151.0,411.3 C154.7,411.3 158.8,412.0 162.0,412.6 C165.2,413.2 167.7,414.1 170.0,415.2 C172.3,416.3 174.3,417.7 176.0,419.0 C177.7,420.3 179.6,422.3 180.3,423.0 L180.3,424.0 L47.6,424.0 Z" fill="#33a457" clip-path="url(#clipD0)"/>
<path d="M47.6,302.9 C50.9,303.8 60.2,305.1 67.5,308.1 C74.8,311.1 84.2,316.7 91.6,321.1 C99.0,325.5 105.2,329.9 112.0,334.3 C118.8,338.7 125.0,343.0 132.3,347.4 C139.6,351.8 148.6,356.1 156.0,360.4 C163.4,364.7 172.8,370.7 176.8,373.2 C180.9,375.7 179.7,375.0 180.3,375.4" fill="none" stroke="#e2636d" stroke-width="2.0" stroke-dasharray="5.6 2.6" clip-path="url(#clipD0)"/>
<g fill="none" stroke="#dc4c58" stroke-width="1.25" clip-path="url(#clipD0)"><circle cx="48.1" cy="303.3" r="3.9"/><circle cx="67.4" cy="308.3" r="3.9"/><circle cx="91.6" cy="321.2" r="3.9"/><circle cx="111.9" cy="344.0" r="3.9"/><circle cx="132.4" cy="347.8" r="3.9"/><circle cx="155.9" cy="360.3" r="3.9"/><circle cx="176.4" cy="374.0" r="3.9"/></g>
<g stroke="#2e9a35" stroke-width="1.5" clip-path="url(#clipD0)"><path d="M48.4,417.3L53.7,422.6L48.4,427.9L43.1,422.6Z" fill="#fff" fill-opacity="0.82"/><path d="M67.4,416.2L72.7,421.5L67.4,426.8L62.1,421.5Z" fill="#fff" fill-opacity="0.82"/><path d="M91.5,412.9L96.8,418.2L91.5,423.5L86.2,418.2Z" fill="#fff" fill-opacity="0.82"/><path d="M112.3,416.8L117.6,422.1L112.3,427.4L107.0,422.1Z" fill="#fff" fill-opacity="0.82"/><path d="M132.3,415.1L137.6,420.4L132.3,425.7L127.0,420.4Z" fill="#fff" fill-opacity="0.82"/><path d="M156.1,401.1L161.4,406.4L156.1,411.7L150.8,406.4Z" fill="#fff" fill-opacity="0.82"/><path d="M176.6,415.3L181.9,420.6L176.6,425.9L171.3,420.6Z" fill="#fff" fill-opacity="0.82"/></g>
<g stroke="#3d86cc" stroke-width="1.4" fill="none" clip-path="url(#clipD0)"><path d="M64.5,419.2L70.3,425.0M64.5,425.0L70.3,419.2"/><path d="M88.6,415.9L94.4,421.7M88.6,421.7L94.4,415.9"/><path d="M109.4,419.9L115.2,425.7M109.4,425.7L115.2,419.9"/><path d="M129.4,404.0L135.2,409.8M129.4,409.8L135.2,404.0"/><path d="M153.2,409.2L159.0,415.0M153.2,415.0L159.0,409.2"/><path d="M173.7,419.4L179.5,425.2M173.7,425.2L179.5,419.4"/></g>
<line x1="47.6" y1="282.4" x2="180.3" y2="282.4" stroke="#2b2b2b" stroke-width="1.1"/>
<line x1="47.6" y1="424.0" x2="180.3" y2="424.0" stroke="#111" stroke-width="1.3"/>
<line x1="47.6" y1="282.4" x2="47.6" y2="424.0" stroke="#2f7a33" stroke-width="1.1"/>
<line x1="180.3" y1="282.4" x2="180.3" y2="424.0" stroke="#5a8fc4" stroke-width="1.1"/>
<line x1="45.4" y1="424.0" x2="47.6" y2="424.0" stroke="#3a9a3a" stroke-width="1"/>
<line x1="180.3" y1="424.0" x2="182.5" y2="424.0" stroke="#5f9fdc" stroke-width="1"/>
<line x1="45.4" y1="392.5" x2="47.6" y2="392.5" stroke="#3a9a3a" stroke-width="1"/>
<line x1="180.3" y1="392.5" x2="182.5" y2="392.5" stroke="#5f9fdc" stroke-width="1"/>
<line x1="45.4" y1="361.0" x2="47.6" y2="361.0" stroke="#3a9a3a" stroke-width="1"/>
<line x1="180.3" y1="361.0" x2="182.5" y2="361.0" stroke="#5f9fdc" stroke-width="1"/>
<line x1="45.4" y1="329.5" x2="47.6" y2="329.5" stroke="#3a9a3a" stroke-width="1"/>
<line x1="180.3" y1="329.5" x2="182.5" y2="329.5" stroke="#5f9fdc" stroke-width="1"/>
<line x1="45.4" y1="298.0" x2="47.6" y2="298.0" stroke="#3a9a3a" stroke-width="1"/>
<line x1="180.3" y1="298.0" x2="182.5" y2="298.0" stroke="#5f9fdc" stroke-width="1"/>
<line x1="68.9" y1="280.2" x2="68.9" y2="282.4" stroke="#333" stroke-width="1"/>
<line x1="68.9" y1="424.0" x2="68.9" y2="426.6" stroke="#333" stroke-width="1"/>
<text x="68.9" y="446.8" font-family="'Liberation Serif', serif" font-size="16.5" fill="#000" text-anchor="middle" >0.10</text>
<text x="68.9" y="462.8" font-family="'Liberation Serif', serif" font-size="16.5" fill="#000" text-anchor="middle" >0.02</text>
<line x1="112.5" y1="280.2" x2="112.5" y2="282.4" stroke="#333" stroke-width="1"/>
<line x1="112.5" y1="424.0" x2="112.5" y2="426.6" stroke="#333" stroke-width="1"/>
<text x="112.5" y="446.8" font-family="'Liberation Serif', serif" font-size="16.5" fill="#000" text-anchor="middle" >0.30</text>
<text x="112.5" y="462.8" font-family="'Liberation Serif', serif" font-size="16.5" fill="#000" text-anchor="middle" >0.08</text>
<line x1="156.1" y1="280.2" x2="156.1" y2="282.4" stroke="#333" stroke-width="1"/>
<line x1="156.1" y1="424.0" x2="156.1" y2="426.6" stroke="#333" stroke-width="1"/>
<text x="156.1" y="446.8" font-family="'Liberation Serif', serif" font-size="16.5" fill="#000" text-anchor="middle" >0.50</text>
<text x="156.1" y="462.8" font-family="'Liberation Serif', serif" font-size="16.5" fill="#000" text-anchor="middle" >0.13</text>
<text x="99.6" y="304.9" font-family="'Liberation Serif', serif" font-size="19.7" fill="#000" text-anchor="start" >Hg-1201</text>
<text x="114.0" y="481.4" font-family="'Liberation Serif', serif" font-size="19.4" text-anchor="middle">doping <tspan font-style="italic">x</tspan></text>
<clipPath id="clipD1"><rect x="188.6" y="282.4" width="132.4" height="141.6"/></clipPath>
<path d="M188.6,423.2 C190.2,423.0 194.4,422.2 198.0,421.9 C201.6,421.6 206.0,421.3 210.0,421.4 C214.0,421.5 217.0,422.1 222.0,422.4 C227.0,422.7 234.5,423.2 240.0,423.4 C245.5,423.6 251.3,423.7 255.0,423.6 C258.7,423.5 259.8,423.3 262.0,423.0 C264.2,422.7 265.8,422.3 268.0,421.6 C270.2,420.9 272.7,420.1 275.0,419.0 C277.3,417.9 279.5,416.5 282.0,415.0 C284.5,413.5 287.5,411.5 290.0,410.2 C292.5,408.9 294.8,407.8 297.0,407.2 C299.2,406.6 300.8,406.7 303.0,406.8 C305.2,406.9 307.8,407.4 310.0,407.8 C312.2,408.2 314.2,408.9 316.0,409.5 C317.8,410.1 320.2,411.2 321.0,411.6 L321.0,424.0 L188.6,424.0 Z" fill="#33a457" clip-path="url(#clipD1)"/>
<path d="M188.6,303.9 C191.9,304.9 201.1,306.8 208.5,309.7 C215.9,312.6 225.5,317.0 233.0,321.5 C240.5,326.0 246.6,332.5 253.4,336.8 C260.2,341.1 266.6,344.5 273.9,347.1 C281.2,349.7 290.1,351.3 297.4,352.6 C304.7,353.9 313.9,354.5 317.8,354.9 C321.7,355.3 320.5,355.1 321.0,355.2" fill="none" stroke="#e2636d" stroke-width="2.0" stroke-dasharray="5.6 2.6" clip-path="url(#clipD1)"/>
<g fill="none" stroke="#dc4c58" stroke-width="1.25" clip-path="url(#clipD1)"><circle cx="189.3" cy="303.6" r="3.9"/><circle cx="209.1" cy="309.6" r="3.9"/><circle cx="233.0" cy="319.5" r="3.9"/><circle cx="253.1" cy="339.0" r="3.9"/><circle cx="273.9" cy="354.2" r="3.9"/><circle cx="297.4" cy="347.8" r="3.9"/><circle cx="317.8" cy="353.8" r="3.9"/></g>
<g stroke="#2e9a35" stroke-width="1.5" clip-path="url(#clipD1)"><path d="M189.0,416.9L194.3,422.2L189.0,427.5L183.7,422.2Z" fill="#fff" fill-opacity="0.82"/><path d="M209.3,416.9L214.6,422.2L209.3,427.5L204.0,422.2Z" fill="#fff" fill-opacity="0.82"/><path d="M232.6,416.5L237.9,421.8L232.6,427.1L227.3,421.8Z" fill="#fff" fill-opacity="0.82"/><path d="M253.2,416.0L258.5,421.3L253.2,426.6L247.9,421.3Z" fill="#fff" fill-opacity="0.82"/><path d="M273.9,416.5L279.2,421.8L273.9,427.1L268.6,421.8Z" fill="#fff" fill-opacity="0.82"/><path d="M297.6,397.8L302.9,403.1L297.6,408.4L292.3,403.1Z" fill="#fff" fill-opacity="0.82"/><path d="M317.9,409.0L323.2,414.3L317.9,419.6L312.6,414.3Z" fill="#fff" fill-opacity="0.82"/></g>
<g stroke="#3d86cc" stroke-width="1.4" fill="none" clip-path="url(#clipD1)"><path d="M206.4,419.7L212.2,425.5M206.4,425.5L212.2,419.7"/><path d="M229.7,419.6L235.5,425.4M229.7,425.4L235.5,419.6"/><path d="M250.3,418.7L256.1,424.5M250.3,424.5L256.1,418.7"/><path d="M271.0,419.6L276.8,425.4M271.0,425.4L276.8,419.6"/><path d="M294.7,399.9L300.5,405.7M294.7,405.7L300.5,399.9"/><path d="M315.0,411.4L320.8,417.2M315.0,417.2L320.8,411.4"/></g>
<line x1="188.6" y1="282.4" x2="321.0" y2="282.4" stroke="#2b2b2b" stroke-width="1.1"/>
<line x1="188.6" y1="424.0" x2="321.0" y2="424.0" stroke="#111" stroke-width="1.3"/>
<line x1="188.6" y1="282.4" x2="188.6" y2="424.0" stroke="#2f7a33" stroke-width="1.1"/>
<line x1="321.0" y1="282.4" x2="321.0" y2="424.0" stroke="#5a8fc4" stroke-width="1.1"/>
<line x1="186.4" y1="424.0" x2="188.6" y2="424.0" stroke="#3a9a3a" stroke-width="1"/>
<line x1="321.0" y1="424.0" x2="323.2" y2="424.0" stroke="#5f9fdc" stroke-width="1"/>
<line x1="186.4" y1="392.5" x2="188.6" y2="392.5" stroke="#3a9a3a" stroke-width="1"/>
<line x1="321.0" y1="392.5" x2="323.2" y2="392.5" stroke="#5f9fdc" stroke-width="1"/>
<line x1="186.4" y1="361.0" x2="188.6" y2="361.0" stroke="#3a9a3a" stroke-width="1"/>
<line x1="321.0" y1="361.0" x2="323.2" y2="361.0" stroke="#5f9fdc" stroke-width="1"/>
<line x1="186.4" y1="329.5" x2="188.6" y2="329.5" stroke="#3a9a3a" stroke-width="1"/>
<line x1="321.0" y1="329.5" x2="323.2" y2="329.5" stroke="#5f9fdc" stroke-width="1"/>
<line x1="186.4" y1="298.0" x2="188.6" y2="298.0" stroke="#3a9a3a" stroke-width="1"/>
<line x1="321.0" y1="298.0" x2="323.2" y2="298.0" stroke="#5f9fdc" stroke-width="1"/>
<line x1="209.9" y1="280.2" x2="209.9" y2="282.4" stroke="#333" stroke-width="1"/>
<line x1="209.9" y1="424.0" x2="209.9" y2="426.6" stroke="#333" stroke-width="1"/>
<text x="209.9" y="446.8" font-family="'Liberation Serif', serif" font-size="16.5" fill="#000" text-anchor="middle" >0.10</text>
<text x="209.9" y="462.8" font-family="'Liberation Serif', serif" font-size="16.5" fill="#000" text-anchor="middle" >0.02</text>
<line x1="253.5" y1="280.2" x2="253.5" y2="282.4" stroke="#333" stroke-width="1"/>
<line x1="253.5" y1="424.0" x2="253.5" y2="426.6" stroke="#333" stroke-width="1"/>
<text x="253.5" y="446.8" font-family="'Liberation Serif', serif" font-size="16.5" fill="#000" text-anchor="middle" >0.30</text>
<text x="253.5" y="462.8" font-family="'Liberation Serif', serif" font-size="16.5" fill="#000" text-anchor="middle" >0.07</text>
<line x1="297.1" y1="280.2" x2="297.1" y2="282.4" stroke="#333" stroke-width="1"/>
<line x1="297.1" y1="424.0" x2="297.1" y2="426.6" stroke="#333" stroke-width="1"/>
<text x="297.1" y="446.8" font-family="'Liberation Serif', serif" font-size="16.5" fill="#000" text-anchor="middle" >0.50</text>
<text x="297.1" y="462.8" font-family="'Liberation Serif', serif" font-size="16.5" fill="#000" text-anchor="middle" >0.11</text>
<text x="213.4" y="304.9" font-family="'Liberation Serif', serif" font-size="19.7" fill="#000" text-anchor="start" >Hg-1212 (ox)</text>
<text x="254.8" y="481.4" font-family="'Liberation Serif', serif" font-size="19.4" text-anchor="middle">doping <tspan font-style="italic">x</tspan></text>
<clipPath id="clipD2"><rect x="330.4" y="282.4" width="133.5" height="141.6"/></clipPath>
<path d="M330.4,423.0 C335.3,422.9 348.4,422.6 360.0,422.4 C371.6,422.2 388.3,421.7 400.0,421.6 C411.7,421.5 419.4,421.8 430.0,421.8 C440.6,421.8 458.2,421.6 463.9,421.6 L463.9,424.0 L330.4,424.0 Z" fill="#33a457" clip-path="url(#clipD2)"/>
<path d="M330.4,303.9 C333.8,304.9 343.1,306.8 350.5,309.7 C357.9,312.6 367.5,317.1 375.0,321.6 C382.5,326.1 388.6,333.0 395.4,336.9 C402.2,340.8 408.6,343.0 415.9,345.1 C423.2,347.2 432.9,349.2 439.4,349.8 C445.9,350.4 450.6,349.1 454.7,348.5 C458.8,347.9 462.4,346.8 463.9,346.5" fill="none" stroke="#e2636d" stroke-width="2.0" stroke-dasharray="5.6 2.6" clip-path="url(#clipD2)"/>
<g fill="none" stroke="#dc4c58" stroke-width="1.25" clip-path="url(#clipD2)"><circle cx="331.1" cy="303.6" r="3.9"/><circle cx="351.1" cy="309.3" r="3.9"/><circle cx="375.0" cy="319.2" r="3.9"/><circle cx="395.4" cy="337.3" r="3.9"/><circle cx="415.9" cy="350.2" r="3.9"/><circle cx="439.4" cy="336.3" r="3.9"/><circle cx="459.8" cy="355.6" r="3.9"/></g>
<g stroke="#2e9a35" stroke-width="1.5" clip-path="url(#clipD2)"><path d="M331.4,416.0L336.7,421.3L331.4,426.6L326.1,421.3Z" fill="#fff" fill-opacity="0.82"/><path d="M351.5,416.0L356.8,421.3L351.5,426.6L346.2,421.3Z" fill="#fff" fill-opacity="0.82"/><path d="M374.7,416.0L380.0,421.3L374.7,426.6L369.4,421.3Z" fill="#fff" fill-opacity="0.82"/><path d="M395.3,416.0L400.6,421.3L395.3,426.6L390.0,421.3Z" fill="#fff" fill-opacity="0.82"/><path d="M416.0,416.0L421.3,421.3L416.0,426.6L410.7,421.3Z" fill="#fff" fill-opacity="0.82"/><path d="M439.3,416.0L444.6,421.3L439.3,426.6L434.0,421.3Z" fill="#fff" fill-opacity="0.82"/><path d="M460.5,416.0L465.8,421.3L460.5,426.6L455.2,421.3Z" fill="#fff" fill-opacity="0.82"/></g>
<g stroke="#3d86cc" stroke-width="1.4" fill="none" clip-path="url(#clipD2)"><path d="M348.6,419.7L354.4,425.5M348.6,425.5L354.4,419.7"/><path d="M371.8,419.7L377.6,425.5M371.8,425.5L377.6,419.7"/><path d="M392.4,419.7L398.2,425.5M392.4,425.5L398.2,419.7"/><path d="M413.1,419.7L418.9,425.5M413.1,425.5L418.9,419.7"/><path d="M436.4,419.7L442.2,425.5M436.4,425.5L442.2,419.7"/><path d="M457.6,419.7L463.4,425.5M457.6,425.5L463.4,419.7"/></g>
<line x1="330.4" y1="282.4" x2="463.9" y2="282.4" stroke="#2b2b2b" stroke-width="1.1"/>
<line x1="330.4" y1="424.0" x2="463.9" y2="424.0" stroke="#111" stroke-width="1.3"/>
<line x1="330.4" y1="282.4" x2="330.4" y2="424.0" stroke="#2f7a33" stroke-width="1.1"/>
<line x1="463.9" y1="282.4" x2="463.9" y2="424.0" stroke="#5a8fc4" stroke-width="1.1"/>
<line x1="328.2" y1="424.0" x2="330.4" y2="424.0" stroke="#3a9a3a" stroke-width="1"/>
<line x1="463.9" y1="424.0" x2="466.09999999999997" y2="424.0" stroke="#5f9fdc" stroke-width="1"/>
<line x1="328.2" y1="392.5" x2="330.4" y2="392.5" stroke="#3a9a3a" stroke-width="1"/>
<line x1="463.9" y1="392.5" x2="466.09999999999997" y2="392.5" stroke="#5f9fdc" stroke-width="1"/>
<line x1="328.2" y1="361.0" x2="330.4" y2="361.0" stroke="#3a9a3a" stroke-width="1"/>
<line x1="463.9" y1="361.0" x2="466.09999999999997" y2="361.0" stroke="#5f9fdc" stroke-width="1"/>
<line x1="328.2" y1="329.5" x2="330.4" y2="329.5" stroke="#3a9a3a" stroke-width="1"/>
<line x1="463.9" y1="329.5" x2="466.09999999999997" y2="329.5" stroke="#5f9fdc" stroke-width="1"/>
<line x1="328.2" y1="298.0" x2="330.4" y2="298.0" stroke="#3a9a3a" stroke-width="1"/>
<line x1="463.9" y1="298.0" x2="466.09999999999997" y2="298.0" stroke="#5f9fdc" stroke-width="1"/>
<line x1="351.7" y1="280.2" x2="351.7" y2="282.4" stroke="#333" stroke-width="1"/>
<line x1="351.7" y1="424.0" x2="351.7" y2="426.6" stroke="#333" stroke-width="1"/>
<text x="351.7" y="446.8" font-family="'Liberation Serif', serif" font-size="16.5" fill="#000" text-anchor="middle" >0.10</text>
<text x="351.7" y="462.8" font-family="'Liberation Serif', serif" font-size="16.5" fill="#000" text-anchor="middle" >0.02</text>
<line x1="395.3" y1="280.2" x2="395.3" y2="282.4" stroke="#333" stroke-width="1"/>
<line x1="395.3" y1="424.0" x2="395.3" y2="426.6" stroke="#333" stroke-width="1"/>
<text x="395.3" y="446.8" font-family="'Liberation Serif', serif" font-size="16.5" fill="#000" text-anchor="middle" >0.30</text>
<text x="395.3" y="462.8" font-family="'Liberation Serif', serif" font-size="16.5" fill="#000" text-anchor="middle" >0.07</text>
<line x1="438.9" y1="280.2" x2="438.9" y2="282.4" stroke="#333" stroke-width="1"/>
<line x1="438.9" y1="424.0" x2="438.9" y2="426.6" stroke="#333" stroke-width="1"/>
<text x="438.9" y="446.8" font-family="'Liberation Serif', serif" font-size="16.5" fill="#000" text-anchor="middle" >0.50</text>
<text x="438.9" y="462.8" font-family="'Liberation Serif', serif" font-size="16.5" fill="#000" text-anchor="middle" >0.08</text>
<text x="350.5" y="304.9" font-family="'Liberation Serif', serif" font-size="19.7" fill="#000" text-anchor="start" >Hg-1212 (red)</text>
<text x="397.1" y="481.4" font-family="'Liberation Serif', serif" font-size="19.4" text-anchor="middle">doping <tspan font-style="italic">x</tspan></text>
<text x="41.6" y="429.6" font-family="'Liberation Serif', serif" font-size="16.5" fill="#1e8c1e" text-anchor="end" >0.0</text>
<text x="41.6" y="398.1" font-family="'Liberation Serif', serif" font-size="16.5" fill="#1e8c1e" text-anchor="end" >0.1</text>
<text x="41.6" y="366.6" font-family="'Liberation Serif', serif" font-size="16.5" fill="#1e8c1e" text-anchor="end" >0.2</text>
<text x="41.6" y="335.1" font-family="'Liberation Serif', serif" font-size="16.5" fill="#1e8c1e" text-anchor="end" >0.3</text>
<text x="41.6" y="303.6" font-family="'Liberation Serif', serif" font-size="16.5" fill="#1e8c1e" text-anchor="end" >0.4</text>
<text transform="translate(13.6,353.2) rotate(-90)" font-family="'Liberation Serif', serif" font-size="19" fill="#1e8c1e" text-anchor="middle">order <tspan font-style="italic">m</tspan></text>
<text x="6.0" y="443.2" font-family="'Liberation Serif', serif" font-size="19" font-style="italic">x</text>
<text x="15.7" y="446.3" font-family="'Liberation Serif', serif" font-size="13" fill="#000" text-anchor="start" >tot</text>
<text x="5.4" y="458.9" font-family="'Liberation Serif', serif" font-size="19" font-style="italic">x</text>
<text x="15.4" y="461.9" font-family="'Liberation Serif', serif" font-size="13.2" fill="#000" text-anchor="start" >Cu</text>
<g transform="translate(483.4,397.2) rotate(-90)" font-family="'Liberation Serif', serif" fill="#3a87c6"><text x="0" y="0" font-size="16" font-style="italic">E</text><text x="9.6" y="2.8" font-size="11">g</text><path d="M18.9,-4.6 C20.4,-7.2 22.3,-7.2 23.7,-5.2 C25.1,-3.2 27.0,-3.2 28.5,-5.8" fill="none" stroke="#3a87c6" stroke-width="1.15"/><text x="31.6" y="0" font-size="17">2</text><text x="40.6" y="0" font-size="17">Δ</text><text x="52.4" y="2.6" font-size="12.5">0</text><text x="63.6" y="0" font-size="16">[eV]</text></g>
<text x="483.6" y="274.2" font-family="'Liberation Sans', sans-serif" font-size="17" fill="#000" text-anchor="start" font-weight="bold">E</text>
<defs><linearGradient id="ringg" x1="0" y1="0" x2="0" y2="1"><stop offset="0" stop-color="#e07a7e"/><stop offset="0.35" stop-color="#d2464c"/><stop offset="1" stop-color="#a8262c"/></linearGradient><radialGradient id="cured" cx="0.5" cy="0.5" r="0.5" fx="0.5" fy="0.45"><stop offset="0" stop-color="#f0c4c6"/><stop offset="0.25" stop-color="#e08088"/><stop offset="0.7" stop-color="#cc4650"/><stop offset="1" stop-color="#9c2a30"/></radialGradient></defs>
<clipPath id="clipE"><rect x="497" y="270" width="177" height="158"/></clipPath>
<g clip-path="url(#clipE)"><ellipse cx="500.5" cy="351.8" rx="8.9" ry="8.9" fill="url(#g20)" /><ellipse cx="672.8" cy="351.8" rx="8.9" ry="8.9" fill="url(#g20)" /><ellipse cx="586.0" cy="351.8" rx="8.9" ry="8.9" fill="url(#g21)" /><ellipse cx="542.0" cy="285.8" rx="7.4" ry="7.2" fill="url(#g22)" /><path d="M530.2,304.2 C530.2,295.0 535.5,292.0 541.0,292.0 C546.5,292.0 551.8,295.0 551.8,304.2 C551.8,307.6 547.0,308.2 541.0,308.2 C535.0,308.2 530.2,307.6 530.2,304.2 Z" fill="url(#g23)"/><ellipse cx="540.8" cy="321.4" rx="5.8" ry="5.4" fill="url(#g24)" /><ellipse cx="540.6" cy="341.6" rx="8.4" ry="7.8" fill="url(#g24)" /><rect x="523.0" y="323.4" width="35.6" height="11.8" rx="5.9" ry="5.9" fill="url(#ringg)"/><path d="M529.8,324.5 L551.8,334.0 M529.8,334.0 L551.8,324.5" stroke="#b02a30" stroke-width="0.8" stroke-opacity="0.5"/><ellipse cx="630.4" cy="285.8" rx="7.4" ry="7.2" fill="url(#g22)" /><path d="M618.6,304.2 C618.6,295.0 623.9,292.0 629.4,292.0 C634.9,292.0 640.2,295.0 640.2,304.2 C640.2,307.6 635.4,308.2 629.4,308.2 C623.4,308.2 618.6,307.6 618.6,304.2 Z" fill="url(#g23)"/><ellipse cx="629.2" cy="321.4" rx="5.8" ry="5.4" fill="url(#g24)" /><ellipse cx="629.0" cy="341.6" rx="8.4" ry="7.8" fill="url(#g24)" /><rect x="611.4" y="323.4" width="35.6" height="11.8" rx="5.9" ry="5.9" fill="url(#ringg)"/><path d="M618.2,324.5 L640.2,334.0 M618.2,334.0 L640.2,324.5" stroke="#b02a30" stroke-width="0.8" stroke-opacity="0.5"/><line x1="497" y1="396.2" x2="519.3" y2="396.2" stroke="#f4c4c4" stroke-width="3.2"/><line x1="519.3" y1="396.2" x2="563.0" y2="396.2" stroke="#f4dcc0" stroke-width="3.2"/><line x1="563.0" y1="396.2" x2="607.1" y2="396.2" stroke="#f4c4c4" stroke-width="3.2"/><line x1="607.1" y1="396.2" x2="651.2" y2="396.2" stroke="#f4dcc0" stroke-width="3.2"/><line x1="651.2" y1="396.2" x2="690" y2="396.2" stroke="#f4c4c4" stroke-width="3.2"/><ellipse cx="497.4" cy="396.6" rx="2.2" ry="7.0" fill="url(#g23)" /><ellipse cx="505.9" cy="395.8" rx="6.6" ry="9.6" fill="url(#g24)" /><ellipse cx="532.6" cy="395.6" rx="4.4" ry="5.6" fill="url(#g24)" /><ellipse cx="549.4" cy="395.6" rx="4.4" ry="5.6" fill="url(#g24)" /><ellipse cx="541.0" cy="395.6" rx="8.7" ry="9.2" fill="url(#cured)"/><ellipse cx="620.8" cy="395.6" rx="4.4" ry="5.6" fill="url(#g24)" /><ellipse cx="637.6" cy="395.6" rx="4.4" ry="5.6" fill="url(#g24)" /><ellipse cx="629.2" cy="395.6" rx="8.7" ry="9.2" fill="url(#cured)"/><ellipse cx="576.1" cy="395.6" rx="6.4" ry="9.6" fill="url(#g24)" /><ellipse cx="593.9" cy="395.6" rx="6.4" ry="9.6" fill="url(#g24)" /><ellipse cx="585.0" cy="397.3" rx="2.1" ry="7.2" fill="url(#g23)" /><ellipse cx="664.3" cy="395.6" rx="6.4" ry="9.6" fill="url(#g24)" /><ellipse cx="682.1" cy="395.6" rx="6.4" ry="9.6" fill="url(#g24)" /><ellipse cx="673.2" cy="397.3" rx="2.1" ry="7.2" fill="url(#g23)" /><line x1="497" y1="396.2" x2="519.3" y2="396.2" stroke="#f4c4c4" stroke-width="2.8" stroke-opacity="0.35"/><line x1="519.3" y1="396.2" x2="563.0" y2="396.2" stroke="#f4dcc0" stroke-width="2.8" stroke-opacity="0.35"/><line x1="563.0" y1="396.2" x2="607.1" y2="396.2" stroke="#f4c4c4" stroke-width="2.8" stroke-opacity="0.35"/><line x1="607.1" y1="396.2" x2="651.2" y2="396.2" stroke="#f4dcc0" stroke-width="2.8" stroke-opacity="0.35"/><line x1="651.2" y1="396.2" x2="690" y2="396.2" stroke="#f4c4c4" stroke-width="2.8" stroke-opacity="0.35"/></g>
<line x1="496.0" y1="290" x2="496.0" y2="429.9" stroke="#000" stroke-width="2"/>
<line x1="495.0" y1="428.9" x2="675" y2="428.9" stroke="#000" stroke-width="2"/>
<path d="M496.0,282.0 L501.8,292.2 L490.2,292.2 Z" fill="#000"/>
<path d="M684.4,428.9 L674.0,423.2 L674.0,434.6 Z" fill="#000"/>
<text x="503.4" y="287.2" font-family="'Liberation Serif', serif" font-size="21" font-style="italic">z</text>
<text x="664.8" y="449.9" font-family="'Liberation Serif', serif" font-size="22" font-style="italic">x</text>
<path d="M578.6,383.6 C576.0,365.0 570.5,350.0 562.6,338.0" fill="none" stroke="#1672c6" stroke-width="2.6"/>
<path d="M559.2,331.8 L568.0,336.0 L560.4,340.6 Z" fill="#1672c6"/>
<text x="553.4" y="289.6" font-family="'Liberation Serif', serif" font-size="15.5" fill="#000" text-anchor="start" >Hg</text>
<text x="551.6" y="322.2" font-family="'Liberation Serif', serif" font-size="15.5" fill="#000" text-anchor="start" >apical O</text>
<text x="599.3" y="357.3" font-family="'Liberation Serif', serif" font-size="15.5" fill="#000" text-anchor="start" >Ba</text>
<text x="531.5" y="420.2" font-family="'Liberation Serif', serif" font-size="15.5" fill="#000" text-anchor="start" >Cu</text>
<text x="578.8" y="420.6" font-family="'Liberation Serif', serif" font-size="15.5" fill="#000" text-anchor="start" >O</text>
<text x="519.6" y="462.9" font-family="'Liberation Serif', serif" font-size="20" fill="#000" text-anchor="start" >Δ</text>
<text transform="translate(532.1,463.6) scale(1.3,1)" font-family="'Liberation Serif', serif" font-size="18.5" font-style="italic">ρ</text>
<rect x="551.8" y="455.1" width="11.4" height="1.2"/><rect x="551.8" y="459.7" width="11.4" height="1.2"/>
<text transform="translate(568.9,463.6) scale(1.3,1)" font-family="'Liberation Serif', serif" font-size="18.5" font-style="italic">ρ</text>
<text x="581.0" y="455.9" font-family="'Liberation Serif', serif" font-size="13" fill="#000" text-anchor="start" >ox</text>
<rect x="600.0" y="457.9" width="5.0" height="1.2"/>
<text transform="translate(609.9,463.6) scale(1.3,1)" font-family="'Liberation Serif', serif" font-size="18.5" font-style="italic">ρ</text>
<text x="622.6" y="455.9" font-family="'Liberation Serif', serif" font-size="12.6" fill="#000" text-anchor="start" >red</text>
</svg></body></html>
